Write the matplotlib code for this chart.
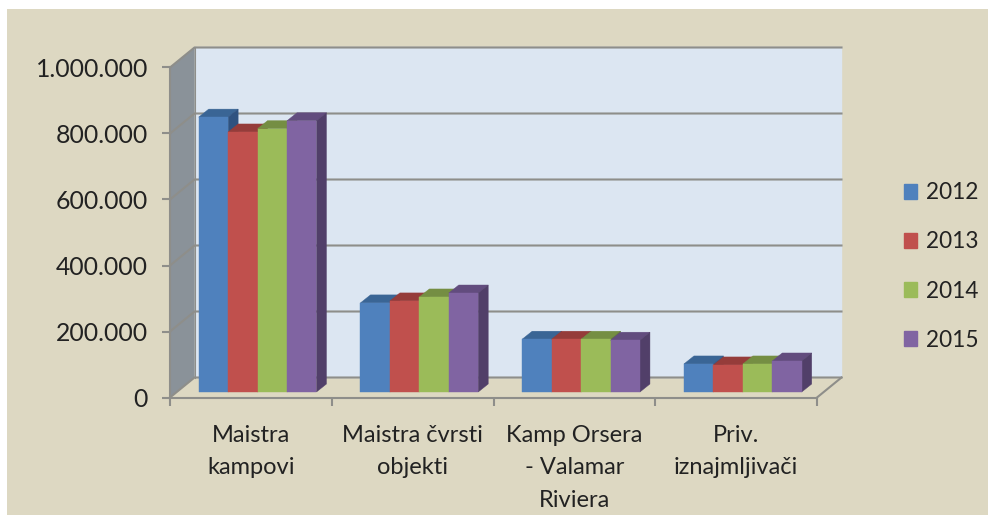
import matplotlib
matplotlib.use('Agg')
import matplotlib.pyplot as plt
from matplotlib.patches import Polygon, Patch, Rectangle

plt.rcParams['font.family'] = ['Lato', 'DejaVu Sans']

categories = ['Maistra\nkampovi', 'Maistra čvrsti\nobjekti', 'Kamp Orsera\n- Valamar\nRiviera', 'Priv.\niznajmljivači']
years = ['2012', '2013', '2014', '2015']
v2012 = [833000, 270000, 160000, 85000]
v2013 = [788000, 276000, 160000, 82000]
v2014 = [798000, 288000, 160000, 85000]
v2015 = [822000, 300000, 157000, 94000]
y_ticks = [0, 200000, 400000, 600000, 800000, 1000000]
y_labels = ['0', '200.000', '400.000', '600.000', '800.000', '1.000.000']

front = ['#4F81BD', '#C0504D', '#9BBB59', '#8064A2']
top = ['#3A6595', '#953C3A', '#758E43', '#624C7E']
side = ['#2F5280', '#7C3230', '#617536', '#513F69']

bg = '#DDD8C2'
wall = '#DCE6F2'
side_wall = '#8A9299'
line = '#8E8E8A'

W, H = 988, 515
fig = plt.figure(figsize=(W / 100, H / 100), dpi=100, facecolor='white')
fig.add_artist(Rectangle((7 / W, 0), 1, 1 - 9 / H, transform=fig.transFigure, color=bg, lw=0, zorder=-1))

ax = fig.add_axes([170 / W, (H - 397.5) / H, 647 / W, 330 / H])
ax.set_xlim(0, 4)
ax.set_ylim(0, 1000000)
ax.patch.set_visible(False)

# depth of the 3d box, in data units
dx = 24.5 / 647 * 4
dy = 20 / 330 * 1000000
# bars stand a bit inside the box
bar_dx = 10 / 647 * 4
bar_dy = 8 / 330 * 1000000
off_x = 6.7 / 647 * 4
off_y = 5.5 / 330 * 1000000
bar_w = 0.182
group_pad = 0.136


def poly(pts, color, z=1):
    ax.add_patch(Polygon(pts, closed=True, facecolor=color, edgecolor=color, lw=0.3, clip_on=False, zorder=z))


poly([(dx, dy), (4 + dx, dy), (4 + dx, 1000000 + dy), (dx, 1000000 + dy)], wall)
poly([(0, 0), (dx, dy), (dx, 1000000 + dy), (0, 1000000)], side_wall)

for t in y_ticks:
    ax.plot([0, dx, 4 + dx], [t, t + dy, t + dy], color=line, lw=1.5, clip_on=False, zorder=2)
ax.plot([4, 4 + dx], [0, dy], color=line, lw=1.5, clip_on=False, zorder=2)
ax.plot([dx, dx], [dy, 1000000 + dy], color=line, lw=0.8, clip_on=False, zorder=2)

series = [v2012, v2013, v2014, v2015]
z = 3
for c in range(len(categories)):
    for s, vals in enumerate(series):
        x0 = c + group_pad + s * bar_w + off_x
        x1 = x0 + bar_w
        y0 = off_y
        y1 = off_y + vals[c]
        poly([(x0, y1), (x1, y1), (x1 + bar_dx, y1 + bar_dy), (x0 + bar_dx, y1 + bar_dy)], top[s], z)
        poly([(x1, y0), (x1 + bar_dx, y0 + bar_dy), (x1 + bar_dx, y1 + bar_dy), (x1, y1)], side[s], z)
        poly([(x0, y0), (x1, y0), (x1, y1), (x0, y1)], front[s], z)
        z += 1

for name in ['top', 'right']:
    ax.spines[name].set_visible(False)
for name in ['left', 'bottom']:
    ax.spines[name].set_color(line)
    ax.spines[name].set_linewidth(1.5)

ax.set_yticks(y_ticks)
ax.set_yticklabels(y_labels, fontsize=17.8, color='#222222')
ax.tick_params(axis='y', length=5.8, width=1.5, color=line, pad=10)

ax.set_xticks(range(5))
ax.set_xticklabels([])
ax.tick_params(axis='x', which='major', length=6, width=1.5, color=line)
ax.set_xticks([i + 0.5 for i in range(4)], minor=True)
ax.set_xticklabels(categories, minor=True, fontsize=17, color='#222222', linespacing=1.68)
ax.tick_params(axis='x', which='minor', length=0, pad=19.5)

handles = [Patch(facecolor=front[i], edgecolor=front[i], label=years[i]) for i in range(4)]
fig.legend(handles=handles, loc='center left', bbox_to_anchor=(904 / W, (H - 266.5) / H), frameon=False,
           fontsize=16.3, labelcolor='#222222', handlelength=0.58, handleheight=0.6, handletextpad=0.38,
           labelspacing=1.24, borderpad=0, borderaxespad=0)

fig.savefig('out.png', dpi=100)
